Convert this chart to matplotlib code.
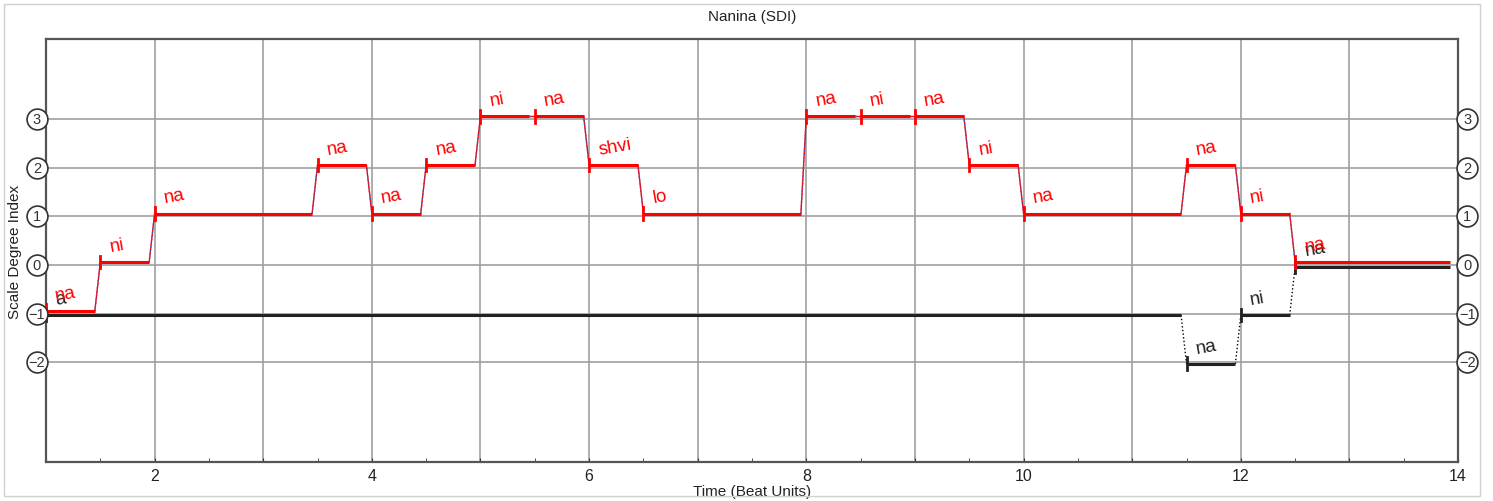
import numpy as np
import matplotlib
matplotlib.use('Agg')
import matplotlib.pyplot as plt
from matplotlib.patches import Rectangle
from matplotlib.transforms import offset_copy

plt.rcParams['font.family'] = ['Liberation Sans', 'DejaVu Sans']

# voix principale (rouge) : début, fin, degré, syllabe
red_start = [1.0, 1.5, 2.0, 3.5, 4.0, 4.5, 5.0, 5.5, 6.0, 6.5, 8.0, 8.5, 9.0, 9.5, 10.0, 11.5, 12.0, 12.5]
red_end = [1.45, 1.95, 3.45, 3.95, 4.45, 4.95, 5.45, 5.95, 6.45, 7.95, 8.45, 8.95, 9.45, 9.95, 11.45, 11.95, 12.45, 13.93]
red_deg = [-1, 0, 1, 2, 1, 2, 3, 3, 2, 1, 3, 3, 3, 2, 1, 2, 1, 0]
red_syl = ['na', 'ni', 'na', 'na', 'na', 'na', 'ni', 'na', 'shvi', 'lo', 'na', 'ni', 'na', 'ni', 'na', 'na', 'ni', 'na']

# seconde voix (noire)
blk_start = [1.0, 11.5, 12.0, 12.5]
blk_end = [11.45, 11.95, 12.45, 13.93]
blk_deg = [-1, -2, -1, 0]
blk_syl = ['a', 'na', 'ni', 'na']

y_ticks = [-2, -1, 0, 1, 2, 3]


def voix(ax, debut, fin, deg, syl, couleur, decal, lien):
    n = len(debut)
    for i in range(n):
        y = deg[i] + decal
        ax.plot([debut[i], fin[i]], [y, y], color=couleur, lw=2.2, solid_capstyle='butt', zorder=5)
        ax.plot([debut[i], debut[i]], [y - 0.13, y + 0.13], color=couleur, lw=2, zorder=5)
        ax.text(debut[i] + 0.1, y + 0.15, syl[i], color=couleur, fontsize=13.5,
                rotation=10, ha='left', va='bottom', rotation_mode='anchor', zorder=6)
        if i < n - 1:
            y2 = deg[i + 1] + decal
            xs = [fin[i], debut[i + 1]]
            if lien:
                ax.plot(xs, [y, y2], color='red', lw=1, zorder=4)
                ax.plot(xs, [y, y2], color='#4060c0', lw=1, ls=':', zorder=4)
            else:
                ax.plot(xs, [y, y2], color='black', lw=1, ls=':', zorder=4)


fig = plt.figure(figsize=(14.93, 5.02), dpi=100)
fig.patches.append(Rectangle((0.003, 0.01), 0.988, 0.98, transform=fig.transFigure,
                             fill=False, edgecolor='#d0d0d0', lw=1))
ax = fig.add_axes([0.0308, 0.0777, 0.9458, 0.8426])

voix(ax, blk_start, blk_end, blk_deg, blk_syl, '#222222', -0.03, False)
voix(ax, red_start, red_end, red_deg, red_syl, 'red', 0.06, True)

ax.set_xlim(1, 14)
ax.set_ylim(-4.05, 4.65)
ax.set_xticks(range(1, 15))
ax.set_xticklabels([str(t) if t % 2 == 0 else '' for t in range(1, 15)], fontsize=11.5,
                   color='#222222')
ax.set_xticks(np.arange(1.5, 14, 1.0), minor=True)
ax.tick_params(axis='x', which='both', direction='in', length=3, color='#333333', pad=4)
ax.set_yticks(y_ticks)
ax.set_yticklabels([])
ax.tick_params(axis='y', length=0)
ax.grid(True, which='major', color='#a0a0a0', lw=1.2)
ax.set_axisbelow(True)

# étiquettes cerclées des deux côtés
trans = ax.get_yaxis_transform()
for xf, off in [(0, -9), (1, 9)]:
    tr = offset_copy(trans, fig=fig, x=off, y=0, units='dots')
    ax.plot([xf] * len(y_ticks), y_ticks, 'o', ms=15, mfc='white', mec='#333333', mew=1.2,
            transform=tr, clip_on=False, zorder=7)
    for t in y_ticks:
        ax.text(xf, t, str(t).replace('-', '\u2212'), transform=tr, ha='center', va='center',
                fontsize=10.5, color='#333333', clip_on=False, zorder=8)

for s in ax.spines.values():
    s.set_color('#555555')
    s.set_linewidth(1.6)

ax.set_title('Nanina (SDI)', fontsize=11, color='#222222', pad=14)
ax.set_xlabel('Time (Beat Units)', fontsize=11, color='#222222', labelpad=1)
ax.set_ylabel('Scale Degree Index', fontsize=11, color='#222222', labelpad=14)

plt.savefig('out.png')
